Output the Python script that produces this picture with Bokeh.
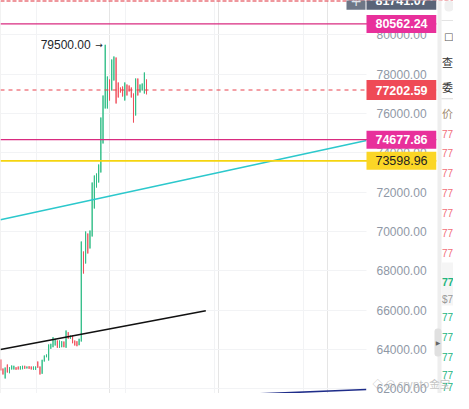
from bokeh.plotting import figure
from bokeh.models import (Range1d, FixedTicker, NumeralTickFormatter, Label, Span,
                          BoxAnnotation, ColumnDataSource, Grid)
from bokeh.embed import file_html
from bokeh.resources import INLINE

# ---------------- data ----------------
opens = [63499, 63042, 62533, 63245, 62803, 62991, 62991, 63107, 63143, 62991,
         63006, 63179, 63042, 63158, 63143, 62975, 62975, 63397, 63143, 62772,
         63397, 63616, 63448, 64043, 64125, 64211, 64465, 64094, 64125, 64414,
         64094, 64887, 64552, 64720, 64465, 64430, 64226, 64414, 68991, 68381,
         69906, 69144, 69754, 71178, 72245, 72500, 73008, 74483, 76263, 76263,
         77737, 77178, 77686, 78856, 77585, 77330, 77381, 76669, 77483, 77432,
         77330, 77025, 75907, 77788, 77076, 77178, 77025, 77737]
highs = [63499, 63042, 63092, 63245, 63107, 63194, 63179, 63107, 63143, 63158,
         63179, 63179, 63143, 63158, 63143, 63143, 63143, 63397, 63143, 63484,
         63703, 63754, 64262, 64298, 64633, 64552, 64465, 64465, 64430, 64414,
         64974, 64887, 64720, 64720, 64465, 64430, 64552, 69499, 68991, 70008,
         69906, 70059, 72500, 72856, 72957, 73415, 75805, 76924, 79500, 77890,
         77737, 78754, 78907, 78856, 77585, 77330, 77381, 77585, 77483, 77432,
         77330, 77025, 77788, 77788, 77483, 77534, 78093, 77737]
lows = [62940, 62736, 62533, 62838, 62803, 62991, 62991, 62975, 62991, 62991,
        63006, 63026, 63042, 63026, 62991, 62975, 62975, 63077, 62736, 62772,
        63397, 63616, 63448, 64043, 64125, 64211, 64094, 64094, 64125, 64125,
        64094, 64552, 64552, 64328, 64211, 64175, 64226, 64414, 67872, 68381,
        68889, 69144, 69754, 71178, 72245, 72500, 73008, 74483, 76263, 76263,
        76669, 77178, 77686, 76517, 76822, 77076, 76873, 76669, 76924, 77127,
        76822, 75551, 75907, 76924, 77076, 77178, 77025, 76974]
closes = [62940, 62736, 63092, 62838, 63107, 63194, 63179, 62975, 62991, 63158,
          63179, 63026, 63143, 63026, 62991, 63143, 63143, 63077, 62736, 63484,
          63703, 63754, 64262, 64298, 64633, 64552, 64094, 64465, 64430, 64125,
          64974, 64552, 64720, 64328, 64211, 64175, 64552, 69499, 67872, 70008,
          68889, 70059, 72500, 72856, 72957, 73415, 75805, 76924, 79500, 77890,
          76669, 78754, 78907, 76517, 76822, 77076, 76873, 77585, 76924, 77127,
          76822, 75551, 77788, 76924, 77483, 77534, 78093, 77202.59]
candle_idx = list(range(len(opens)))

price_ticks = [62000, 64000, 66000, 68000, 70000, 72000, 74000, 76000, 78000, 80000]
time_grid = [16.4, 57.3, 98.3, 139.2]

level_top_alert = 81741.07
level_upper = 80562.24
last_price = 77202.59
level_mid = 74677.86
level_yellow = 73598.96
peak_price = 79500.00
peak_idx = 48

cyan_x = [-0.14, 168.1]
cyan_y = [70600, 74640]
black_x = [-0.14, 94.25]
black_y = [64007, 65976]
blue_x = [117.0, 168.1]
blue_y = [61745, 61975]

ask_rows = ["77", "77", "77", "77", "77", "77", "77"]
bid_rows = ["77", "77", "77", "77", "77"]
side_labels = ["查", "委", "价"]

# ---------------- layout helpers (screen pixels) ----------------
W, H = 453, 393
PPU = 50.85                      # price units per pixel
Y_TOP = 81754.0
Y_BOT = Y_TOP - H * PPU
X0 = -0.14
X1 = X0 + W / 2.175


def py(yr):
    return Y_TOP - yr * PPU


GREEN = "#2ebd85"
RED = "#f0505c"
MAGENTA = "#d92b80"
MAG_BG = "#e8309b"
YELLOW = "#f5d40f"
YEL_BG = "#fbd626"
CYAN = "#2cc8cc"
AXIS_TXT = "#8f98a6"

p = figure(width=W, height=H, output_backend="svg", toolbar_location=None,
           x_range=Range1d(X0, X1), y_range=Range1d(Y_BOT, Y_TOP),
           x_axis_location=None, y_axis_location="right",
           min_border=0, min_border_right=0,
           background_fill_color="white", border_fill_color="white")
p.outline_line_color = None

ax = p.yaxis[0]
ax.ticker = FixedTicker(ticks=price_ticks)
ax.formatter = NumeralTickFormatter(format="0.00")
ax.axis_line_color = None
ax.major_tick_line_color = None
ax.minor_tick_line_color = None
ax.major_tick_out = 0
ax.major_tick_in = 0
ax.major_label_standoff = -(W - 376)
ax.major_label_text_color = AXIS_TXT
ax.major_label_text_font = "Liberation Sans"
ax.major_label_text_font_size = "12px"

p.ygrid.grid_line_color = "#f2f3f5"
p.add_layout(Grid(dimension=0, ticker=FixedTicker(ticks=time_grid),
                  grid_line_color="#f2f3f5"))

# white price-scale area (covers grid lines right of the chart)
p.add_layout(BoxAnnotation(left=366, right=W, left_units="screen", right_units="screen",
                           bottom=Y_BOT, top=Y_TOP, fill_color="white", fill_alpha=1,
                           line_color=None, level="glyph"))

# ---------------- candles ----------------
colors = [GREEN if c >= o else RED for o, c in zip(opens, closes)]
src = ColumnDataSource(dict(x=candle_idx, o=opens, h=highs, l=lows, c=closes,
                            top=[max(o, c) for o, c in zip(opens, closes)],
                            bot=[min(o, c) for o, c in zip(opens, closes)],
                            col=colors))
p.segment(x0="x", y0="l", x1="x", y1="h", line_color="col", line_width=1, source=src)
p.vbar(x="x", top="top", bottom="bot", width=0.42, fill_color="col", line_color=None,
       source=src)

# ---------------- lines ----------------
p.line(cyan_x, cyan_y, line_color=CYAN, line_width=1.5)
p.line(black_x, black_y, line_color="#111111", line_width=1.6)
p.line(blue_x, blue_y, line_color="#1f2d8a", line_width=1.6)

p.add_layout(Span(location=level_top_alert, dimension="width", line_color="#e0303c",
                  line_width=1.4, line_dash="4 2"))
p.add_layout(Span(location=level_upper, dimension="width", line_color=MAGENTA, line_width=1.2))
p.add_layout(Span(location=last_price, dimension="width", line_color="#e8404c",
                  line_width=1, line_dash="4 4"))
p.add_layout(Span(location=level_mid, dimension="width", line_color=MAGENTA, line_width=1.2))
p.add_layout(Span(location=level_yellow, dimension="width", line_color=YELLOW, line_width=1.6))

# peak annotation
p.add_layout(Label(x=peak_idx, y=peak_price, x_offset=-14.5, text=f"{peak_price:.2f}",
                   text_align="right", text_baseline="middle", text_color="#23262b",
                   text_font="Liberation Sans", text_font_size="12px"))
p.add_layout(Label(x=peak_idx, y=peak_price, x_offset=-10, text="→", text_align="left",
                   text_baseline="middle", text_color="#23262b", text_font="DejaVu Sans",
                   text_font_size="9px"))

# ---------------- price tags on the scale ----------------
HH = 9 * PPU


def tag(price, bg, txt_color, bold=True, grow=1.0):
    p.add_layout(BoxAnnotation(left=366, right=436, left_units="screen", right_units="screen",
                               bottom=price - HH * grow, top=price + HH * grow,
                               fill_color=bg, fill_alpha=1, line_color=None))
    p.add_layout(Label(x=401, y=price, x_units="screen", text=f"{price:.2f}",
                       text_align="center", text_baseline="middle", text_color=txt_color,
                       text_font="Liberation Sans", text_font_size="12.5px",
                       text_font_style="bold" if bold else "normal"))


tag(level_top_alert, "#5a6478", "white")
tag(level_upper, MAG_BG, "white")
tag(last_price, "#ef4a56", "white", grow=1.1)
tag(level_mid, MAG_BG, "white")
tag(level_yellow, YEL_BG, "#222222", bold=False)

# "+" button next to the top tag
p.add_layout(BoxAnnotation(left=346, right=365, left_units="screen", right_units="screen",
                           bottom=level_top_alert - HH, top=level_top_alert + HH,
                           fill_color="#6e7787", fill_alpha=1, line_color=None))
p.add_layout(Label(x=355.5, y=level_top_alert, x_units="screen", text="+",
                   text_align="center", text_baseline="middle", text_color="#dfe3ea",
                   text_font="DejaVu Sans", text_font_size="14px"))

# ---------------- side panel (order book strip) ----------------
SP = 441  # left edge of the white panel
TX = 441.5
p.add_layout(BoxAnnotation(left=436, right=W, left_units="screen", right_units="screen",
                           bottom=Y_BOT, top=Y_TOP, fill_color="white", fill_alpha=1,
                           line_color=None))
p.add_layout(BoxAnnotation(left=437, right=SP, left_units="screen", right_units="screen",
                           bottom=Y_BOT, top=Y_TOP, fill_color="#eeeeee", fill_alpha=1,
                           line_color=None))
p.add_layout(BoxAnnotation(left=444, right=W, left_units="screen", right_units="screen",
                           bottom=py(11), top=Y_TOP, fill_color="#f0f0f0", fill_alpha=1,
                           line_color=None, border_radius=4))
p.add_layout(BoxAnnotation(left=SP, right=W, left_units="screen", right_units="screen",
                           bottom=py(20.5), top=py(19.5), fill_color="#e3e3e3", fill_alpha=1,
                           line_color=None))
p.add_layout(BoxAnnotation(left=SP, right=W, left_units="screen", right_units="screen",
                           bottom=py(98.8), top=py(97.8), fill_color="#d9d9d9", fill_alpha=1,
                           line_color=None))
p.add_layout(BoxAnnotation(left=SP, right=W, left_units="screen", right_units="screen",
                           bottom=py(305), top=py(262), fill_color="#f5f5f5", fill_alpha=1,
                           line_color=None))

p.add_layout(Label(x=443.5, y=py(36), x_units="screen", text="□", text_baseline="middle",
                   text_color="#555555", text_font="DejaVu Sans", text_font_size="10px"))
for txt, yr, col in zip(side_labels, [61, 86, 112], ["#333333", "#333333", "#a08b70"]):
    p.add_layout(Label(x=TX, y=py(yr), x_units="screen", text=txt, text_baseline="middle",
                       text_color=col, text_font="Noto Sans CJK SC", text_font_size="11px"))

ask_y = [133, 152, 172, 192, 212, 232, 252]
for txt, yr in zip(ask_rows, ask_y):
    p.add_layout(Label(x=TX, y=py(yr), x_units="screen", text=txt, text_baseline="middle",
                       text_color="#f26d79", text_font="Liberation Sans", text_font_size="10px"))
bid_y = [316, 336, 356, 374, 386]
for txt, yr in zip(bid_rows, bid_y):
    p.add_layout(Label(x=TX, y=py(yr), x_units="screen", text=txt, text_baseline="middle",
                       text_color="#22b57e", text_font="Liberation Sans", text_font_size="10px"))

p.add_layout(Label(x=TX, y=py(281), x_units="screen", text="77", text_baseline="middle",
                   text_color="#22b57e", text_font="Liberation Sans", text_font_size="10.5px",
                   text_font_style="bold"))
p.add_layout(Label(x=TX, y=py(299), x_units="screen", text="$7", text_baseline="middle",
                   text_color="#999999", text_font="Liberation Sans", text_font_size="10px"))

# collapse handle
p.add_layout(BoxAnnotation(left=434, right=441, left_units="screen", right_units="screen",
                           bottom=py(356), top=py(328), fill_color="#e0e0e0", fill_alpha=1,
                           line_color=None, border_radius=3))
p.add_layout(Label(x=437.5, y=py(342), x_units="screen", text="▶", text_align="center",
                   text_baseline="middle", text_color="#666666", text_font="DejaVu Sans",
                   text_font_size="6px"))

# watermark
p.add_layout(Label(x=372, y=py(383), x_units="screen", text="◇ @ crypto金宝",
                   text_baseline="middle", text_color="#b5b5b5", text_alpha=0.8,
                   text_font="Noto Sans CJK SC", text_font_size="10.5px"))

open("out.html", "w").write(file_html(p, INLINE))
